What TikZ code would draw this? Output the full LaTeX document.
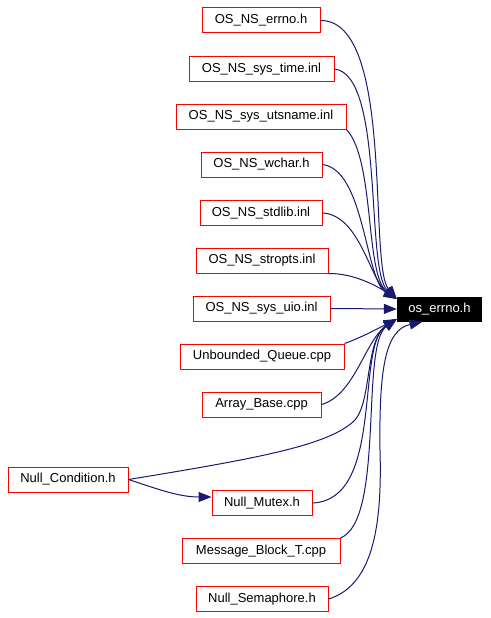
\documentclass[tikz,border=0pt]{standalone}
\usepackage{fontspec}
\setmainfont{Liberation Sans}
\usetikzlibrary{arrows.meta}
\definecolor{edgeblue}{RGB}{25,25,112}
\tikzset{
  filebox/.style={draw=red, line width=1pt, minimum height=25pt, inner sep=0pt, font=\fontsize{13}{15}\selectfont},
  mainbox/.style={fill=black, text=white, minimum height=25pt, inner sep=0pt, font=\fontsize{13}{15}\selectfont},
  dep/.style={draw=edgeblue, line width=1pt, -{Triangle[length=13pt,width=10pt]}}
}
\begin{document}
\begin{tikzpicture}[x=1pt,y=-1pt]
\useasboundingbox (0,0) rectangle (490,618);
\node[mainbox, minimum width=85pt] (os) at (439.5,309) {os\_errno.h};
\node[filebox, minimum width=118pt] (errno) at (261,20.5) {OS\_NS\_errno.h};
\node[filebox, minimum width=145pt] (systime) at (261.5,69) {OS\_NS\_sys\_time.inl};
\node[filebox, minimum width=170pt] (utsname) at (261,116.5) {OS\_NS\_sys\_utsname.inl};
\node[filebox, minimum width=121pt] (wchar) at (261.5,164.5) {OS\_NS\_wchar.h};
\node[filebox, minimum width=122pt] (stdlib) at (261,213) {OS\_NS\_stdlib.inl};
\node[filebox, minimum width=132pt] (stropts) at (262,260.5) {OS\_NS\_stropts.inl};
\node[filebox, minimum width=137pt] (sysuio) at (261.5,308.5) {OS\_NS\_sys\_uio.inl};
\node[filebox, minimum width=164pt] (unbounded) at (262,356.5) {Unbounded\_Queue.cpp};
\node[filebox, minimum width=119pt] (arraybase) at (261.5,404.5) {Array\_Base.cpp};
\node[filebox, minimum width=120pt] (nullcond) at (68,479.5) {Null\_Condition.h};
\node[filebox, minimum width=100pt] (nullmutex) at (262,503) {Null\_Mutex.h};
\node[filebox, minimum width=158pt] (msgblock) at (261,551) {Message\_Block\_T.cpp};
\node[filebox, minimum width=132pt] (nullsem) at (262,599) {Null\_Semaphore.h};
\draw[dep] (errno.east) .. controls (395,20) and (368,265) .. ([yshift=10pt]os.west);
\draw[dep] (systime.east) .. controls (385,75) and (365,270) .. ([yshift=10pt]os.west);
\draw[dep] (utsname.south east) .. controls (375,160) and (365,275) .. ([yshift=10pt]os.west);
\draw[dep] (wchar.east) .. controls (365,170) and (365,280) .. ([yshift=10pt]os.west);
\draw[dep] (stdlib.east) .. controls (360,215) and (370,280) .. ([yshift=10pt]os.west);
\draw[dep] (stropts.south east) .. controls (355,273) and (380,288) .. ([yshift=10pt]os.west);
\draw[dep] (sysuio.east) -- (os.west);
\draw[dep] (unbounded.north east) .. controls (360,338) and (375,330) .. ([yshift=-10pt]os.west);
\draw[dep] (arraybase.east) .. controls (355,395) and (365,340) .. ([yshift=-10pt]os.west);
\draw[dep] (nullcond.east) .. controls (260,458) and (330,445) .. (355,420) .. controls (372,400) and (365,340) .. ([yshift=-10pt]os.west);
\draw[dep] (nullcond.east) .. controls (160,490) and (180,497) .. ([yshift=6pt]nullmutex.west);
\draw[dep] (nullmutex.east) .. controls (385,500) and (355,345) .. ([yshift=-10pt]os.west);
\draw[dep] (msgblock.north east) .. controls (385,520) and (360,345) .. ([yshift=-10pt]os.west);
\draw[dep] (nullsem.east) .. controls (375,585) and (382,520) .. (380,450) .. controls (379,370) and (385,330) .. ([xshift=-17pt]os.south);
\end{tikzpicture}
\end{document}
